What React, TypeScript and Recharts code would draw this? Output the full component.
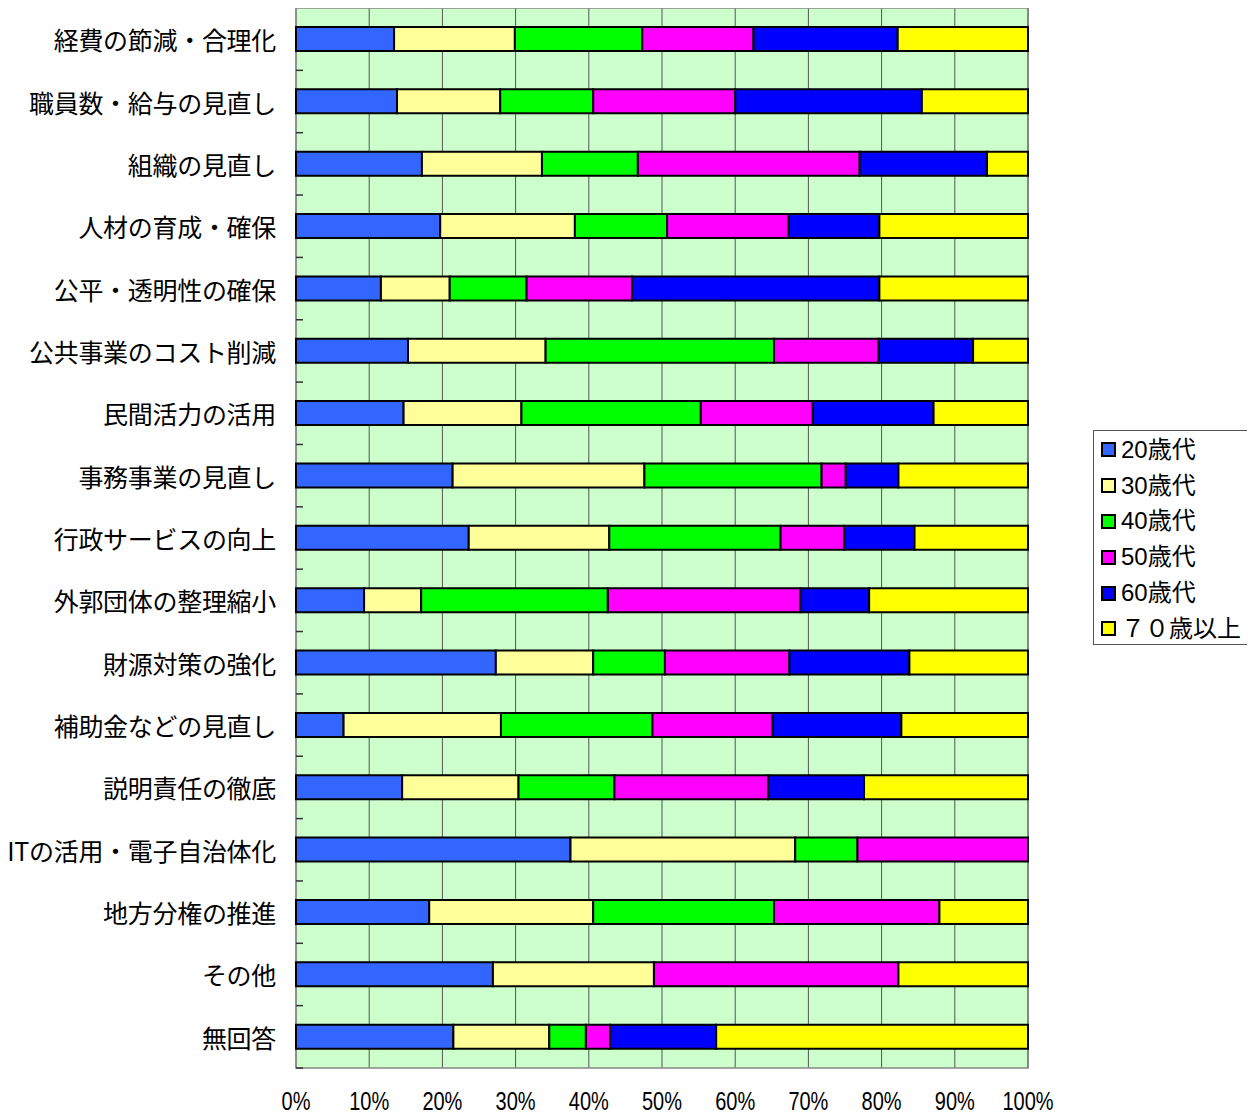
import {
  BarChart,
  Bar,
  XAxis,
  YAxis,
  CartesianGrid,
  Legend,
  ReferenceArea,
} from "recharts";

const CATEGORIES = [
  "経費の節減・合理化",
  "職員数・給与の見直し",
  "組織の見直し",
  "人材の育成・確保",
  "公平・透明性の確保",
  "公共事業のコスト削減",
  "民間活力の活用",
  "事務事業の見直し",
  "行政サービスの向上",
  "外郭団体の整理縮小",
  "財源対策の強化",
  "補助金などの見直し",
  "説明責任の徹底",
  "ITの活用・電子自治体化",
  "地方分権の推進",
  "その他",
  "無回答",
];

// percent shares per category
const AGE_20 = [13.4, 13.8, 17.2, 19.7, 11.6, 15.3, 14.7, 21.4, 23.6, 9.3, 27.3, 6.5, 14.5, 37.5, 18.2, 26.9, 21.5];
const AGE_30 = [16.5, 14.1, 16.4, 18.4, 9.4, 18.8, 16.1, 26.2, 19.2, 7.8, 13.3, 21.5, 15.9, 30.7, 22.4, 22.0, 13.1];
const AGE_40 = [17.4, 12.7, 13.1, 12.6, 10.5, 31.2, 24.5, 24.2, 23.4, 25.5, 9.8, 20.7, 13.1, 8.5, 24.7, 0, 5.0];
const AGE_50 = [15.2, 19.4, 30.3, 16.6, 14.4, 14.3, 15.3, 3.3, 8.7, 26.3, 17.0, 16.4, 21.0, 23.3, 22.6, 33.4, 3.3];
const AGE_60 = [19.7, 25.5, 17.4, 12.4, 33.8, 12.9, 16.5, 7.2, 9.6, 9.4, 16.4, 17.6, 13.1, 0, 0, 0, 14.5];
const AGE_70 = [17.8, 14.5, 5.6, 20.3, 20.3, 7.5, 12.9, 17.7, 15.5, 21.7, 16.2, 17.3, 22.4, 0, 12.1, 17.7, 42.6];

const X_TICKS = [0, 10, 20, 30, 40, 50, 60, 70, 80, 90, 100];

const SERIES = [
  { key: "a20", name: "20歳代", values: AGE_20, color: "#3366FF" },
  { key: "a30", name: "30歳代", values: AGE_30, color: "#FFFF99" },
  { key: "a40", name: "40歳代", values: AGE_40, color: "#00FF00" },
  { key: "a50", name: "50歳代", values: AGE_50, color: "#FF00FF" },
  { key: "a60", name: "60歳代", values: AGE_60, color: "#0000FF" },
  { key: "a70", name: "７０歳以上", values: AGE_70, color: "#FFFF00" },
];

const data = CATEGORIES.map((name, i) => {
  const row: Record<string, string | number> = { name };
  SERIES.forEach((s) => (row[s.key] = s.values[i]));
  return row;
});

const WIDTH = 1240;
const HEIGHT = 1107;
const Y_AXIS_W = 288;
const X_AXIS_H = 47;
const PLOT_LEFT = Y_AXIS_W;
const PLOT_BOTTOM = HEIGHT - X_AXIS_H;
const BAND = PLOT_BOTTOM / CATEGORIES.length;

const JP_FONT = "'Noto Sans CJK JP', 'Noto Sans', sans-serif";

const CategoryTick = ({ y, payload }: any) => (
  <g>
    <text
      x={PLOT_LEFT - 20}
      y={y}
      textAnchor="end"
      dominantBaseline="central"
      fontSize={25}
      letterSpacing={-0.3}
      fontFamily={JP_FONT}
      fill="#000"
    >
      {payload.value}
    </text>
    <line
      x1={PLOT_LEFT}
      x2={PLOT_LEFT + 7}
      y1={y + BAND / 2}
      y2={y + BAND / 2}
      stroke="#333"
      strokeWidth={1.5}
    />
  </g>
);

// narrow look: Liberation Sans squeezed horizontally
const PercentTick = ({ x, payload }: any) => (
  <text
    transform={`translate(${x}, ${PLOT_BOTTOM + 42}) scale(0.8, 1)`}
    textAnchor="middle"
    fontSize={25}
    fontFamily="'Liberation Sans', Arial, sans-serif"
    fill="#000"
  >
    {payload.value}%
  </text>
);

const LegendBox = () => (
  <div
    style={{
      border: "1px solid #555",
      background: "#fff",
      padding: "1px 0 0 7px",
      boxSizing: "border-box",
      width: 157,
      height: 215,
    }}
  >
    {SERIES.map((s) => (
      <div
        key={s.key}
        style={{ display: "flex", alignItems: "center", height: 35.8 }}
      >
        <span
          style={{
            display: "inline-block",
            width: 11,
            height: 11,
            border: "2px solid #000",
            background: s.color,
            marginRight: 5,
          }}
        />
        <span
          style={{
            fontSize: 24,
            fontFamily: "'Liberation Sans', 'Noto Sans CJK JP', sans-serif",
            color: "#000",
            lineHeight: 1,
          }}
        >
          {s.name}
        </span>
      </div>
    ))}
  </div>
);

export default function App() {
  return (
    <BarChart
      width={WIDTH}
      height={HEIGHT}
      data={data}
      layout="vertical"
      margin={{ top: 0, right: 220, bottom: 0, left: 0 }}
      barSize={24}
    >
      <CartesianGrid
        horizontal={false}
        stroke="#555"
        fill="#CCFFCC"
        fillOpacity={1}
      />
      <XAxis
        type="number"
        domain={[0, 100]}
        ticks={X_TICKS}
        height={X_AXIS_H}
        axisLine={false}
        tickLine={false}
        tick={<PercentTick />}
        interval={0}
      />
      <YAxis
        type="category"
        dataKey="name"
        width={Y_AXIS_W}
        axisLine={false}
        tickLine={false}
        tick={<CategoryTick />}
        interval={0}
      />
      {SERIES.map((s) => (
        <Bar
          key={s.key}
          dataKey={s.key}
          name={s.name}
          stackId="age"
          fill={s.color}
          stroke="#000"
          strokeWidth={2}
          isAnimationActive={false}
        />
      ))}
      <ReferenceArea
        x1={0}
        x2={100}
        fill="none"
        stroke="#888"
        strokeWidth={1.5}
      />
      <Legend
        layout="vertical"
        align="center"
        verticalAlign="middle"
        content={<LegendBox />}
        wrapperStyle={{ left: 1085, top: 422, width: 157, height: 215 }}
      />
    </BarChart>
  );
}
